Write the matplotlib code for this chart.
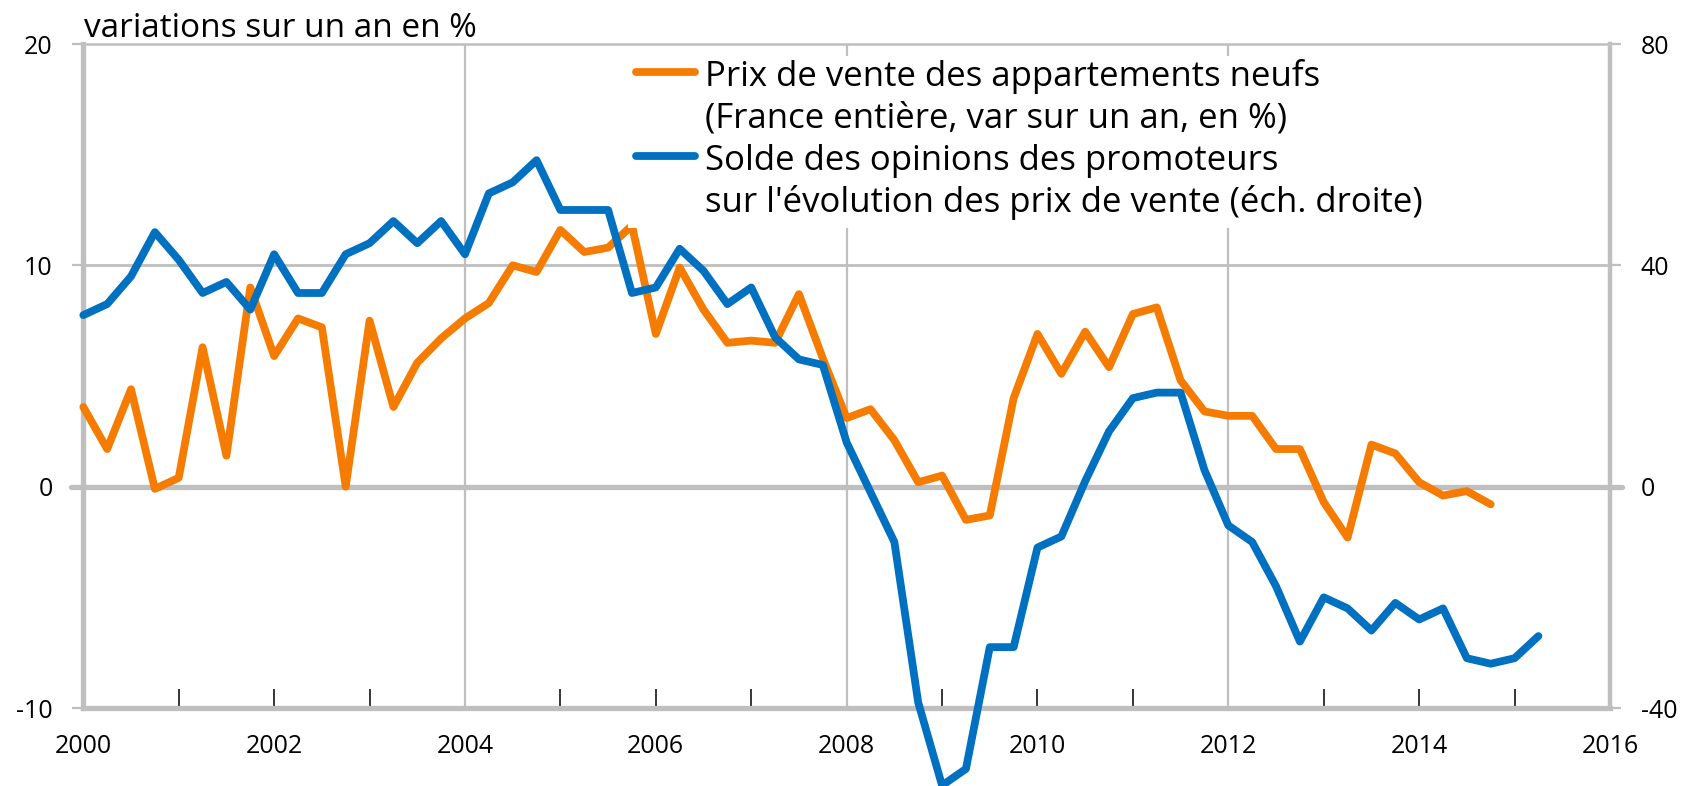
import numpy as np
import pandas as pd
import matplotlib
matplotlib.use("Agg")
import matplotlib.pyplot as plt
from matplotlib.lines import Line2D
from matplotlib.patches import Rectangle

# ---------------- data ----------------
start_quarter = "2000Q1"
prix_appartements = [3.6, 1.7, 4.4, -0.1, 0.4, 6.3, 1.4, 9.0, 5.9, 7.6,
                     7.2, 0.0, 7.5, 3.6, 5.6, 6.7, 7.6, 8.3, 10.0, 9.7,
                     11.6, 10.6, 10.8, 11.8, 6.9, 9.9, 8.0, 6.5, 6.6, 6.5,
                     8.7, 5.8, 3.1, 3.5, 2.1, 0.2, 0.5, -1.5, -1.3, 4.0,
                     6.9, 5.1, 7.0, 5.4, 7.8, 8.1, 4.8, 3.4, 3.2, 3.2,
                     1.7, 1.7, -0.7, -2.3, 1.9, 1.5, 0.2, -0.4, -0.2, -0.8]
solde_promoteurs = [31, 33, 38, 46, 41, 35, 37, 32, 42, 35,
                    35, 42, 44, 48, 44, 48, 42, 53, 55, 59,
                    50, 50, 50, 35, 36, 43, 39, 33, 36, 27,
                    23, 22, 8, -1, -10, -39, -54, -51, -29, -29,
                    -11, -9, 1, 10, 16, 17, 17, 3, -7, -10,
                    -18, -28, -20, -22, -26, -21, -24, -22, -31, -32,
                    -31, -27]
left_ticks = [-10, 0, 10, 20]
right_ticks = [-40, 0, 40, 80]
year_labels = [2000, 2002, 2004, 2006, 2008, 2010, 2012, 2014, 2016]
grid_years = [2004, 2008, 2012]
tick_years = [2001, 2002, 2003, 2005, 2006, 2007, 2009, 2010, 2011, 2013, 2014, 2015]
title = "variations sur un an en %"
legend_lines = [
    ("Prix de vente des appartements neufs", "(France entière, var sur un an, en %)"),
    ("Solde des opinions des promoteurs", "sur l'évolution des prix de vente (éch. droite)"),
]


def to_decimal_years(n):
    p = pd.period_range(start_quarter, periods=n, freq="Q")
    return np.array([q.year + (q.quarter - 1) / 4 for q in p])


x_orange = to_decimal_years(len(prix_appartements))
x_blue = to_decimal_years(len(solde_promoteurs))

# ---------------- style ----------------
plt.rcParams["font.family"] = ["Open Sans", "DejaVu Sans"]
ORANGE = "#F57C00"
BLUE = "#0070C0"
GREY = "#BFBFBF"
W, H = 1684, 786
fig = plt.figure(figsize=(W / 100, H / 100), dpi=100)
L, R, T, B = 83.3, 1610, 44, 708
ax = fig.add_axes([L / W, 1 - B / H, (R - L) / W, (B - T) / H])
ax2 = ax.twinx()

ax.set_xlim(2000, 2016)
ax.set_ylim(-10, 20)
ax2.set_ylim(-40, 80)

# grid
for g in grid_years:
    ax.axvline(g, color=GREY, lw=1.6, zorder=0.5)
ax.axhline(10, color=GREY, lw=2.0, zorder=0.5)
ax.axhline(0, xmin=-0.008, xmax=1.008, color=GREY, lw=3.8, zorder=0.6,
           clip_on=False, solid_capstyle="round")

# spines
ax.spines["right"].set_visible(False)
ax.spines["left"].set_color(GREY)
ax.spines["left"].set_linewidth(3.8)
ax.spines["bottom"].set_color(GREY)
ax.spines["bottom"].set_linewidth(3.8)
ax.spines["top"].set_color(GREY)
ax.spines["top"].set_linewidth(1.8)
for s in ["left", "top", "bottom"]:
    ax2.spines[s].set_visible(False)
ax2.spines["right"].set_color(GREY)
ax2.spines["right"].set_linewidth(3.2)

# ticks
ax.set_yticks(left_ticks)
ax.set_yticklabels([str(v) for v in left_ticks])
ax.tick_params(axis="y", direction="out", length=8, width=1.6, color=GREY,
               labelsize=18, pad=14)
ax2.set_yticks(right_ticks)
ax2.set_yticklabels([str(v) for v in right_ticks])
ax2.tick_params(axis="y", direction="out", length=8, width=1.6, color=GREY,
                labelsize=18, pad=14)
ax.set_xticks(year_labels)
ax.set_xticklabels([str(v) for v in year_labels])
ax.set_xticks(tick_years, minor=True)
ax.xaxis.remove_overlapping_locs = False
ax.tick_params(axis="x", which="major", length=0, labelsize=18, pad=19)
ax.tick_params(axis="x", which="minor", direction="in", length=14, width=1.1,
               color="black")

# data lines
ax.plot(x_orange, prix_appartements, color=ORANGE, lw=5.6, zorder=3,
        solid_joinstyle="round", solid_capstyle="round", clip_on=False)
ax2.plot(x_blue, solde_promoteurs, color=BLUE, lw=5.6, zorder=3,
         solid_joinstyle="round", solid_capstyle="round", clip_on=False)

# title
fig.text(84 / W, 1 - 37 / H, title, fontsize=24, ha="left", va="baseline")


def ax_frac(xp, yp):
    return ((xp - L) / (R - L), (B - yp) / (B - T))


# legend (manual, white box)
x0, y0 = ax_frac(628, 228)
x1, y1 = ax_frac(1430, 56)
ax2.add_patch(Rectangle((x0, y0), x1 - x0, y1 - y0, transform=ax2.transAxes,
                        facecolor="white", edgecolor="none", zorder=5))
handle_y = [72, 156]
baselines = [(86, 128), (170, 212)]
colors = [ORANGE, BLUE]
for (l1, l2), hy, (b1, b2), c in zip(legend_lines, handle_y, baselines, colors):
    hx0, hyy = ax_frac(636, hy)
    hx1, _ = ax_frac(695, hy)
    ax2.add_line(Line2D([hx0, hx1], [hyy, hyy], transform=ax2.transAxes,
                        color=c, lw=5.6, solid_capstyle="round", zorder=6))
    for txt, bl in ((l1, b1), (l2, b2)):
        tx, ty = ax_frac(705, bl)
        ax2.text(tx, ty, txt, transform=ax2.transAxes, fontsize=25,
                 ha="left", va="baseline", zorder=7)

fig.savefig("out.png", dpi=100)
